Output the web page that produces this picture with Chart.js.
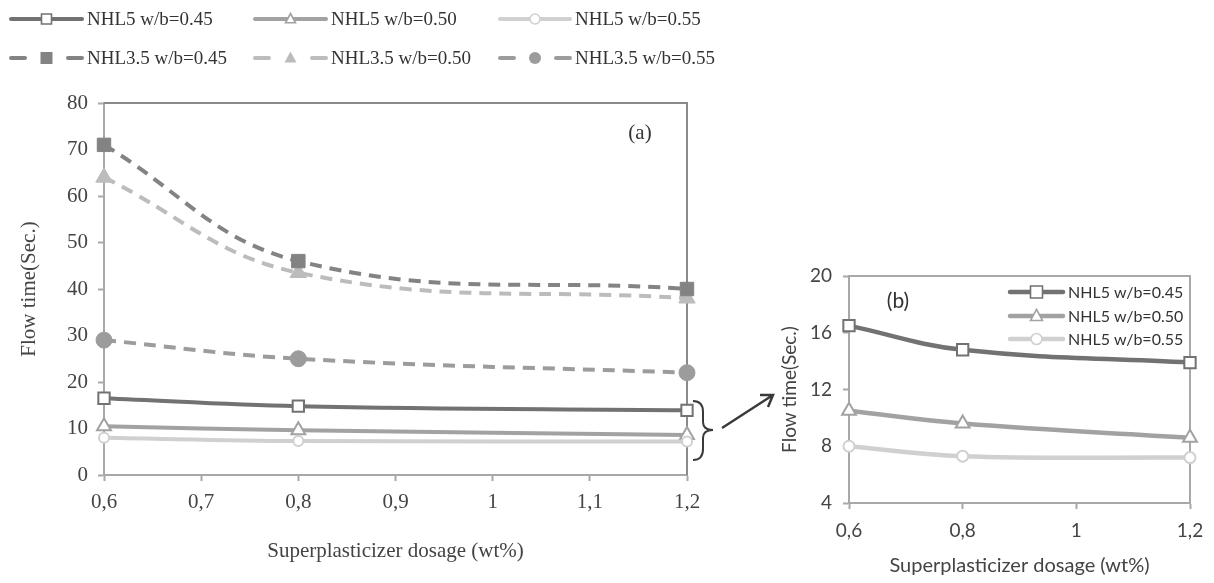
<!DOCTYPE html>
<html>
<head>
<meta charset="utf-8">
<script src="https://cdn.jsdelivr.net/npm/chart.js@4.4.1/dist/chart.umd.min.js"></script>
<style>
  html, body { margin: 0; padding: 0; background: #fff; }
  #wrap { position: relative; width: 1214px; height: 583px; overflow: hidden; }
  #cA { position: absolute; left: 0; top: 0; }
  #cB { position: absolute; left: 770px; top: 0; }
</style>
</head>
<body>
<div id="wrap">
  <canvas id="cA" width="780" height="583"></canvas>
  <canvas id="cB" width="444" height="583"></canvas>
</div>
<script>
// data
const dosage = [0.6, 0.8, 1.2];
const nhl5_045 = [16.5, 14.8, 13.9];
const nhl5_050 = [10.5, 9.6, 8.6];
const nhl5_055 = [8.0, 7.3, 7.2];
const nhl35_045 = [71, 46, 40];
const nhl35_050 = [64, 43.5, 38];
const nhl35_055 = [29, 25, 22];

const xTicksA = [0.6, 0.7, 0.8, 0.9, 1, 1.1, 1.2];
const yTicksA = [0, 10, 20, 30, 40, 50, 60, 70, 80];
const xTicksB = [0.6, 0.8, 1, 1.2];
const yTicksB = [4, 8, 12, 16, 20];

const labels5 = ['NHL5 w/b=0.45', 'NHL5 w/b=0.50', 'NHL5 w/b=0.55'];
const labels35 = ['NHL3.5 w/b=0.45', 'NHL3.5 w/b=0.50', 'NHL3.5 w/b=0.55'];

const c5 = ['#727272', '#a2a2a2', '#d0d0d0'];
const c35 = ['#838383', '#bcbcbc', '#9c9c9c'];
const shapes = ['rect', 'triangle', 'circle'];

const SERIF = '"Liberation Serif", "Times New Roman", serif';
const SANS = 'Lato, "Open Sans", sans-serif';

const xy = ys => dosage.map((x, i) => ({ x: x, y: ys[i] }));
const comma = v => String(v).replace('.', ',');

function drawMarker(ctx, type, x, y, r, fill, stroke, lw) {
  ctx.save();
  ctx.beginPath();
  if (type === 'rect') {
    ctx.rect(x - r, y - r, 2 * r, 2 * r);
  } else if (type === 'triangle') {
    ctx.moveTo(x, y - r * 1.1);
    ctx.lineTo(x + r, y + r * 0.75);
    ctx.lineTo(x - r, y + r * 0.75);
    ctx.closePath();
  } else {
    ctx.arc(x, y, r, 0, Math.PI * 2);
  }
  ctx.fillStyle = fill;
  ctx.fill();
  if (stroke) {
    ctx.strokeStyle = stroke;
    ctx.lineWidth = lw;
    ctx.stroke();
  }
  ctx.restore();
}

function legendItem(ctx, x0, x1, y, color, shape, dashed, text, font, lw, mr) {
  ctx.save();
  ctx.strokeStyle = color;
  ctx.lineWidth = lw;
  ctx.lineCap = 'round';
  ctx.beginPath();
  if (dashed) {
    ctx.moveTo(x0, y); ctx.lineTo(x0 + 14, y);
    ctx.moveTo(x1 - 14, y); ctx.lineTo(x1, y);
  } else {
    ctx.moveTo(x0, y); ctx.lineTo(x1, y);
  }
  ctx.stroke();
  const mx = (x0 + x1) / 2;
  if (dashed) drawMarker(ctx, shape, mx, y, mr + 1, color);
  else drawMarker(ctx, shape, mx, y, mr, '#fff', color, 1.6);
  ctx.fillStyle = '#333';
  ctx.font = font;
  ctx.textBaseline = 'middle';
  ctx.fillText(text, x1 + 5, y + 1);
  ctx.restore();
}

function solidSet(i, ys, lw, r) {
  return {
    label: labels5[i], data: xy(ys),
    borderColor: c5[i], borderWidth: lw,
    pointStyle: shapes[i], pointRadius: shapes[i] === 'circle' ? r - 2 : r,
    pointBackgroundColor: '#fff', pointBorderColor: c5[i], pointBorderWidth: 2,
    tension: 0.4, clip: false
  };
}
function dashedSet(i, ys) {
  return {
    label: labels35[i], data: xy(ys),
    borderColor: c35[i], borderWidth: 4, borderDash: [12, 8],
    pointStyle: shapes[i], pointRadius: shapes[i] === 'circle' ? 8 : 9.5,
    pointBackgroundColor: c35[i], pointBorderColor: c35[i], pointBorderWidth: 1,
    tension: 0.4, clip: false
  };
}

// chart (a)
const extrasA = {
  id: 'extrasA',
  beforeDatasetsDraw(chart) {
    const { ctx, chartArea: a } = chart;
    ctx.save();
    ctx.strokeStyle = '#8a8a8a';
    ctx.lineWidth = 2;
    ctx.beginPath();
    ctx.moveTo(a.left, a.top); ctx.lineTo(a.right, a.top); ctx.lineTo(a.right, a.bottom);
    ctx.stroke();
    ctx.restore();
  },
  afterDraw(chart) {
    const ctx = chart.ctx;
    const font = '19px ' + SERIF;
    const cols = [[11, 82], [255, 326], [500, 570]];
    for (let i = 0; i < 3; i++) {
      legendItem(ctx, cols[i][0], cols[i][1], 19, c5[i], shapes[i], false, labels5[i], font, 4, 5);
      legendItem(ctx, cols[i][0], cols[i][1], 58, c35[i], shapes[i], true, labels35[i], font, 4, 5);
    }
    ctx.save();
    ctx.fillStyle = '#333';
    ctx.font = '21px ' + SERIF;
    ctx.textAlign = 'center';
    ctx.textBaseline = 'middle';
    ctx.fillText('(a)', 640, 133);
    // brace and arrow pointing to (b)
    ctx.strokeStyle = '#3a3a3a';
    ctx.lineWidth = 2;
    ctx.beginPath();
    ctx.moveTo(693, 401);
    ctx.quadraticCurveTo(703, 401, 703, 412);
    ctx.lineTo(703, 422);
    ctx.quadraticCurveTo(703, 430, 713, 430);
    ctx.quadraticCurveTo(703, 430, 703, 438);
    ctx.lineTo(703, 449);
    ctx.quadraticCurveTo(703, 460, 693, 460);
    ctx.stroke();
    ctx.lineWidth = 2.5;
    ctx.beginPath();
    ctx.moveTo(722, 428); ctx.lineTo(773, 395);
    ctx.moveTo(760, 395); ctx.lineTo(773, 395); ctx.lineTo(768, 407);
    ctx.stroke();
    ctx.restore();
  }
};

new Chart(document.getElementById('cA'), {
  type: 'line',
  data: {
    datasets: [
      dashedSet(0, nhl35_045), dashedSet(1, nhl35_050), dashedSet(2, nhl35_055),
      solidSet(2, nhl5_055, 4, 7), solidSet(1, nhl5_050, 4, 8), solidSet(0, nhl5_045, 4, 8)
    ]
  },
  options: {
    responsive: false,
    animation: false,
    layout: { padding: { left: 0, right: 93, top: 103, bottom: 0 } },
    plugins: { legend: { display: false }, tooltip: { enabled: false } },
    scales: {
      x: {
        type: 'linear', min: 0.6, max: 1.2,
        afterFit: s => { s.height = 108; },
        afterBuildTicks: s => { s.ticks = xTicksA.map(v => ({ value: v })); },
        grid: { drawOnChartArea: false, tickLength: 6, tickWidth: 2, color: '#a8a8a8' },
        border: { color: '#a8a8a8', width: 2 },
        ticks: { callback: v => comma(v), color: '#444', padding: 9, font: { family: SERIF, size: 21 } },
        title: { display: true, text: 'Superplasticizer dosage (wt%)', color: '#444',
                 padding: { top: 0, bottom: 19 }, font: { family: SERIF, size: 21 } }
      },
      y: {
        min: 0, max: 80,
        afterFit: s => { s.width = 104; },
        afterBuildTicks: s => { s.ticks = yTicksA.map(v => ({ value: v })); },
        grid: { drawOnChartArea: false, tickLength: 6, tickWidth: 2, color: '#a8a8a8' },
        border: { color: '#a8a8a8', width: 2 },
        ticks: { color: '#444', padding: 10, font: { family: SERIF, size: 21 } },
        title: { display: true, text: 'Flow time(Sec.)', color: '#444',
                 padding: { top: 17, bottom: 17 }, font: { family: SERIF, size: 21 } }
      }
    }
  },
  plugins: [extrasA]
});

// chart (b)
const extrasB = {
  id: 'extrasB',
  beforeDatasetsDraw(chart) {
    const { ctx, chartArea: a } = chart;
    ctx.save();
    ctx.strokeStyle = '#a8a8a8';
    ctx.lineWidth = 2;
    ctx.beginPath();
    ctx.moveTo(a.left, a.top); ctx.lineTo(a.right, a.top); ctx.lineTo(a.right, a.bottom);
    ctx.stroke();
    ctx.restore();
  },
  afterDraw(chart) {
    const ctx = chart.ctx;
    const font = '16px ' + SANS;
    const rows = [292, 316, 339];
    for (let i = 0; i < 3; i++) {
      legendItem(ctx, 240, 293, rows[i], c5[i], shapes[i], false, labels5[i], font, 4.5, shapes[i] === 'circle' ? 5.5 : 6);
    }
    ctx.save();
    ctx.fillStyle = '#333';
    ctx.font = '21px ' + SANS;
    ctx.textAlign = 'center';
    ctx.textBaseline = 'middle';
    ctx.fillText('(b)', 128, 301);
    ctx.restore();
  }
};

new Chart(document.getElementById('cB'), {
  type: 'line',
  data: {
    datasets: [solidSet(2, nhl5_055, 4.5, 7.5), solidSet(1, nhl5_050, 4.5, 8), solidSet(0, nhl5_045, 4.5, 8)]
  },
  options: {
    responsive: false,
    animation: false,
    layout: { padding: { left: 0, right: 24, top: 276, bottom: 0 } },
    plugins: { legend: { display: false }, tooltip: { enabled: false } },
    scales: {
      x: {
        type: 'linear', min: 0.6, max: 1.2,
        afterFit: s => { s.height = 80; },
        afterBuildTicks: s => { s.ticks = xTicksB.map(v => ({ value: v })); },
        grid: { drawOnChartArea: false, tickLength: 6, tickWidth: 2, color: '#a8a8a8' },
        border: { color: '#a8a8a8', width: 2 },
        ticks: { callback: v => comma(v), color: '#444', padding: 10, font: { family: SANS, size: 19 } },
        title: { display: true, text: 'Superplasticizer dosage (wt%)', color: '#444',
                 padding: { top: 0, bottom: 5 }, font: { family: SANS, size: 20 } }
      },
      y: {
        min: 4, max: 20,
        afterFit: s => { s.width = 79; },
        afterBuildTicks: s => { s.ticks = yTicksB.map(v => ({ value: v })); },
        grid: { drawOnChartArea: false, tickLength: 6, tickWidth: 2, color: '#a8a8a8' },
        border: { color: '#a8a8a8', width: 2 },
        ticks: { color: '#444', padding: 11, font: { family: SANS, size: 19 } },
        title: { display: true, text: 'Flow time(Sec.)', color: '#444',
                 padding: { top: 8, bottom: 8 }, font: { family: SANS, size: 19 } }
      }
    }
  },
  plugins: [extrasB]
});
</script>
</body>
</html>
